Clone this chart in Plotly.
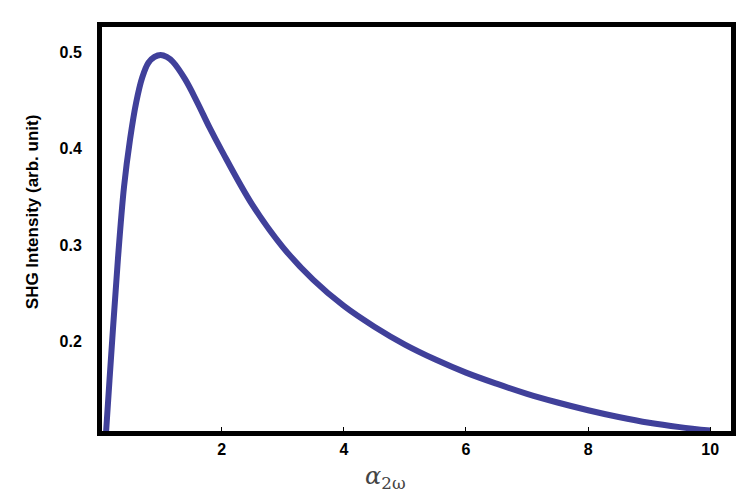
import plotly.graph_objects as go

# values
alpha = [0.07, 0.1, 0.2, 0.3, 0.4, 0.5, 0.6, 0.7, 0.8, 0.9, 1.0, 1.1, 1.2, 1.4, 1.6, 1.8,
         2.0, 2.5, 3.0, 3.5, 4.0, 4.5, 5.0, 5.5, 6.0, 6.5, 7.0, 7.5, 8.0, 8.5, 9.0, 9.5, 10.0]
intensity = [0.07, 0.10, 0.195, 0.285, 0.36, 0.41, 0.448, 0.474, 0.489, 0.495, 0.497, 0.495,
             0.490, 0.472, 0.448, 0.422, 0.398, 0.342, 0.298, 0.264, 0.237, 0.2155, 0.197,
             0.1815, 0.168, 0.1565, 0.146, 0.137, 0.129, 0.122, 0.116, 0.1115, 0.108]

x_ticks = [2, 4, 6, 8, 10]
y_ticks = [0.2, 0.3, 0.4, 0.5]

fig = go.Figure()
fig.add_trace(
    go.Scatter(
        x=alpha,
        y=intensity,
        mode="lines",
        line=dict(color="#40409a", width=6, shape="spline", smoothing=1),
        showlegend=False,
    )
)

tickfont = dict(family="Arial", size=16, color="black", weight="bold")
fig.update_xaxes(
    range=[0.04, 10.34],
    tickvals=x_ticks,
    ticktext=[str(v) for v in x_ticks],
    ticks="inside",
    ticklen=4,
    tickcolor="black",
    tickfont=tickfont,
    showline=True,
    linecolor="black",
    linewidth=5,
    mirror=True,
    showgrid=False,
    zeroline=False,
)
fig.update_yaxes(
    range=[0.1075, 0.526],
    tickvals=y_ticks,
    ticktext=["0.2", "0.3", "0.4", "0.5"],
    ticks="",
    ticklabelstandoff=12,
    tickfont=tickfont,
    showline=True,
    linecolor="black",
    linewidth=5,
    mirror=True,
    showgrid=False,
    zeroline=False,
)

# y axis title
fig.add_annotation(
    text="SHG Intensity (arb. unit)",
    xref="paper", yref="paper",
    x=-0.111, y=0.542,
    xanchor="center", yanchor="middle",
    textangle=-90,
    showarrow=False,
    font=dict(family="Arial", size=17, color="black", weight="bold"),
)

# x axis title
fig.add_annotation(
    text="<i>α</i><sub>2ω</sub>",
    xref="paper", yref="paper",
    x=0.45, y=-0.116,
    xanchor="center", yanchor="middle",
    showarrow=False,
    font=dict(family="DejaVu Serif", size=24, color="#444444"),
)

fig.update_layout(
    width=753,
    height=497,
    margin=dict(l=94, r=30, t=19, b=74),
    plot_bgcolor="white",
    paper_bgcolor="white",
)

fig.write_html("out.html")
